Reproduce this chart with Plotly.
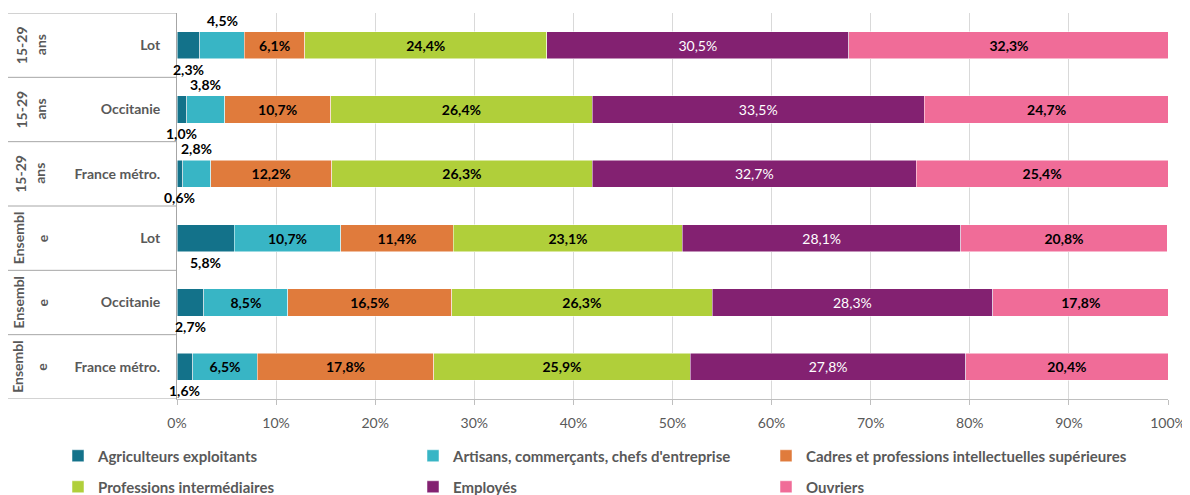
import plotly.graph_objects as go

# ---------------- data ----------------
group_line1 = ["15-29", "15-29", "15-29", "Ensembl", "Ensembl", "Ensembl"]
group_line2 = ["ans", "ans", "ans", "e", "e", "e"]
places = ["Lot", "Occitanie", "France métro.", "Lot", "Occitanie", "France métro."]

series_names = [
    "Agriculteurs exploitants",
    "Artisans, commerçants, chefs d'entreprise",
    "Cadres et professions intellectuelles supérieures",
    "Professions intermédiaires",
    "Employés",
    "Ouvriers",
]
agri = [2.3, 1.0, 0.6, 5.8, 2.7, 1.6]
artisans = [4.5, 3.8, 2.8, 10.7, 8.5, 6.5]
cadres = [6.1, 10.7, 12.2, 11.4, 16.5, 17.8]
prof_int = [24.4, 26.4, 26.3, 23.1, 26.3, 25.9]
employes = [30.5, 33.5, 32.7, 28.1, 28.3, 27.8]
ouvriers = [32.3, 24.7, 25.4, 20.8, 17.8, 20.4]

x_ticks = [0, 10, 20, 30, 40, 50, 60, 70, 80, 90, 100]
x_tick_labels = [f"{v}%" for v in x_ticks]

# ---------------- styles ----------------
colors = ["#13728A", "#38B5C5", "#E07B3C", "#B0CF3A", "#832171", "#F06C98"]
text_colors = ["black", "black", "black", "black", "white", "black"]
text_weights = ["bold", "bold", "bold", "bold", "normal", "bold"]
outside_side = ["below", "above", None, None, None, None]
OUT_THRESHOLD = 6.0
FONT = "Lato"
GREY = "#595959"
BAR_W = 0.42

OFF = 8  # page body offset
W, H = 1190 - OFF, 495 - OFF
# target plot area in page pixels: x 177..1168, y 13..399
L = 177 - OFF
T = 13 - OFF
PW = 1168 - 177
PH = 399 - 13
R = W - L - PW
B = H - T - PH

# legend slots (page pixels): columns and rows
legend_cols_px = [58, 413, 766]
legend_rows_px = [456, 487]


def px2paper_x(px):
    return (px - OFF - L) / PW


def py2paper_y(py):
    return (T + PH - (py - OFF)) / PH


def fmt(v):
    return f"{v:.1f}".replace(".", ",") + "%"


all_series = [agri, artisans, cadres, prof_int, employes, ouvriers]
ids = [f"{a}{b} | {p} | {i}" for i, (a, b, p) in enumerate(zip(group_line1, group_line2, places))]

fig = go.Figure()
annotations = []
legend_layouts = {}
cum = [0.0] * len(ids)
for k, (name, vals) in enumerate(zip(series_names, all_series)):
    texts = []
    for i, v in enumerate(vals):
        if outside_side[k] is not None and v < OUT_THRESHOLD:
            texts.append("")
            center = cum[i] + v / 2
            if outside_side[k] == "below":
                annotations.append(dict(
                    x=center, y=i + BAR_W / 2, xref="x", yref="y",
                    text=fmt(v), showarrow=False, yanchor="top", yshift=0,
                    font=dict(family=FONT, size=14, color="black", weight="bold"),
                ))
            else:
                annotations.append(dict(
                    x=center, y=i - BAR_W / 2, xref="x", yref="y",
                    text=fmt(v), showarrow=False, yanchor="bottom", yshift=1,
                    font=dict(family=FONT, size=14, color="black", weight="bold"),
                ))
        else:
            texts.append(fmt(v))
    for i, v in enumerate(vals):
        cum[i] += v
    lname = "legend" if k == 0 else f"legend{k + 1}"
    legend_layouts[lname] = dict(
        orientation="h",
        x=px2paper_x(legend_cols_px[k % 3]), xanchor="left",
        y=py2paper_y(legend_rows_px[k // 3]), yanchor="middle",
        font=dict(family=FONT, size=15, color=GREY, weight="bold"),
        bgcolor="rgba(0,0,0,0)",
    )
    fig.add_trace(go.Bar(
        y=ids, x=vals, name=name, orientation="h",
        marker=dict(color=colors[k], line=dict(color="white", width=0.5)),
        text=texts, textposition="inside", insidetextanchor="middle",
        constraintext="none",
        textfont=dict(family=FONT, size=14, color=text_colors[k], weight=text_weights[k]),
        width=BAR_W,
        legend=lname,
    ))

# group labels (rotated) on the left
for i in range(len(ids)):
    annotations.append(dict(
        x=px2paper_x(21 if group_line1[i] == "15-29" else 18), y=i,
        xref="paper", yref="y", text=group_line1[i], showarrow=False,
        textangle=-90, xanchor="center", yanchor="middle",
        font=dict(family=FONT, size=14, color=GREY, weight="bold"),
    ))
    annotations.append(dict(
        x=px2paper_x(40 if group_line1[i] == "15-29" else 42), y=i,
        xref="paper", yref="y", text=group_line2[i], showarrow=False,
        textangle=-90, xanchor="center", yanchor="middle",
        font=dict(family=FONT, size=14, color=GREY, weight="bold"),
    ))

shapes = []
for k in range(len(ids) + 1):
    shapes.append(dict(
        type="line", xref="paper", yref="y",
        x0=px2paper_x(5), x1=0, y0=k - 0.5, y1=k - 0.5,
        line=dict(color="#A6A6A6", width=1),
    ))

fig.update_layout(
    width=W, height=H,
    margin=dict(l=L, r=R, t=T, b=B, autoexpand=False),
    barmode="stack",
    plot_bgcolor="white", paper_bgcolor="white",
    separators=", ",
    font=dict(family=FONT, color=GREY, size=13),
    annotations=annotations,
    shapes=shapes,
    showlegend=True,
    xaxis=dict(
        range=[0, 100], tickvals=x_ticks, ticktext=x_tick_labels,
        showgrid=True, gridcolor="#D9D9D9", gridwidth=1,
        zeroline=False, showline=True, linecolor="#BFBFBF",
        ticks="outside", ticklen=5, tickcolor="#BFBFBF",
        ticklabelstandoff=6, ticklabeloverflow="allow",
        tickfont=dict(family=FONT, size=14, color=GREY),
        fixedrange=True,
    ),
    yaxis=dict(
        type="category",
        tickvals=ids, ticktext=places,
        showgrid=False, zeroline=False, showline=True, linecolor="#A6A6A6",
        ticks="", ticklabelstandoff=13,
        tickfont=dict(family=FONT, size=14, color=GREY, weight="bold"),
        range=[len(ids) - 0.5, -0.5],
    ),
    **legend_layouts,
)

fig.write_html("out.html")
